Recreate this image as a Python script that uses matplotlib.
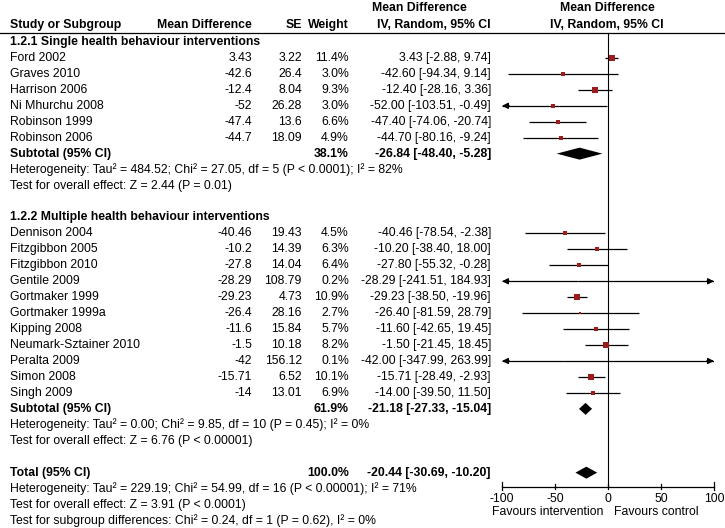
import matplotlib
matplotlib.use("Agg")
import matplotlib.pyplot as plt
from matplotlib.patches import Polygon

plt.rcParams['font.family'] = ['Liberation Sans', 'DejaVu Sans']

# data
g1_names = ["Ford 2002", "Graves 2010", "Harrison 2006", "Ni Mhurchu 2008",
            "Robinson 1999", "Robinson 2006"]
g1_md = [3.43, -42.6, -12.4, -52, -47.4, -44.7]
g1_se = [3.22, 26.4, 8.04, 26.28, 13.6, 18.09]
g1_w = [11.4, 3.0, 9.3, 3.0, 6.6, 4.9]
g1_lo = [-2.88, -94.34, -28.16, -103.51, -74.06, -80.16]
g1_hi = [9.74, 9.14, 3.36, -0.49, -20.74, -9.24]

g2_names = ["Dennison 2004", "Fitzgibbon 2005", "Fitzgibbon 2010", "Gentile 2009",
            "Gortmaker 1999", "Gortmaker 1999a", "Kipping 2008",
            "Neumark-Sztainer 2010", "Peralta 2009", "Simon 2008", "Singh 2009"]
g2_md = [-40.46, -10.2, -27.8, -28.29, -29.23, -26.4, -11.6, -1.5, -42, -15.71, -14]
g2_se = [19.43, 14.39, 14.04, 108.79, 4.73, 28.16, 15.84, 10.18, 156.12, 6.52, 13.01]
g2_w = [4.5, 6.3, 6.4, 0.2, 10.9, 2.7, 5.7, 8.2, 0.1, 10.1, 6.9]
g2_lo = [-78.54, -38.40, -55.32, -241.51, -38.50, -81.59, -42.65, -21.45, -347.99, -28.49, -39.50]
g2_hi = [-2.38, 18.00, -0.28, 184.93, -19.96, 28.79, 19.45, 18.45, 263.99, -2.93, 11.50]

sub_est = [-26.84, -21.18]
sub_lo = [-48.40, -27.33]
sub_hi = [-5.28, -15.04]
sub_w = [38.1, 61.9]
tot_est, tot_lo, tot_hi = -20.44, -30.69, -10.20

g1_stats = ["Heterogeneity: Tau\u00b2 = 484.52; Chi\u00b2 = 27.05, df = 5 (P < 0.0001); I\u00b2 = 82%",
            "Test for overall effect: Z = 2.44 (P = 0.01)"]
g2_stats = ["Heterogeneity: Tau\u00b2 = 0.00; Chi\u00b2 = 9.85, df = 10 (P = 0.45); I\u00b2 = 0%",
            "Test for overall effect: Z = 6.76 (P < 0.00001)"]
tot_stats = ["Heterogeneity: Tau\u00b2 = 229.19; Chi\u00b2 = 54.99, df = 16 (P < 0.00001); I\u00b2 = 71%",
             "Test for overall effect: Z = 3.91 (P < 0.0001)",
             "Test for subgroup differences: Chi\u00b2 = 0.24, df = 1 (P = 0.62), I\u00b2 = 0%"]
ticks = [-100, -50, 0, 50, 100]

W, H = 725, 528
FS = 8.8
RED = "#9b1c1c"


def row_y(i):
    return 42 + 15.95 * (i - 1)


fig = plt.figure(figsize=(W / 100, H / 100), dpi=100)
ax = fig.add_axes([0, 0, 1, 1])
ax.set_xlim(0, W)
ax.set_ylim(H, 0)
ax.axis("off")

x0, x1 = 502, 714
fax = fig.add_axes([x0 / W, 0, (x1 - x0) / W, 1])
fax.set_xlim(-100, 100)
fax.set_ylim(H, 0)
fax.axis("off")

# headers
def txt(x, y, s, ha="left", bold=False):
    ax.text(x, y, s, ha=ha, va="center", fontsize=FS,
            fontweight="bold" if bold else "normal")

txt(10, 25, "Study or Subgroup", bold=True)
txt(252, 25, "Mean Difference", ha="right", bold=True)
txt(302, 25, "SE", ha="right", bold=True)
txt(349, 25, "Weight", ha="right", bold=True)
txt(467, 8, "Mean Difference", ha="right", bold=True)
txt(491, 25, "IV, Random, 95% CI", ha="right", bold=True)
txt(607, 8, "Mean Difference", ha="center", bold=True)
txt(607, 25, "IV, Random, 95% CI", ha="center", bold=True)
ax.plot([0, W], [32.5, 32.5], color="black", lw=0.9)

axis_y = 487
fax.plot([0, 0], [32.5, axis_y], color="black", lw=0.8)


def study_row(i, name, md, se, w, lo, hi):
    y = row_y(i)
    txt(10, y, name)
    txt(252, y, f"{md:g}", ha="right")
    txt(302, y, f"{se:g}", ha="right")
    txt(349, y, f"{w:.1f}%", ha="right")
    txt(491, y, f"{md:.2f} [{lo:.2f}, {hi:.2f}]", ha="right")
    a, b = max(lo, -100), min(hi, 100)
    fax.plot([a, b], [y, y], color="black", lw=0.9, solid_capstyle="butt")
    if lo < -100:
        fax.annotate("", xy=(-100, y), xytext=(-93, y),
                     arrowprops=dict(arrowstyle="-|>", color="black", lw=0.9,
                                     mutation_scale=9, shrinkA=0, shrinkB=0))
    if hi > 100:
        fax.annotate("", xy=(100, y), xytext=(93, y),
                     arrowprops=dict(arrowstyle="-|>", color="black", lw=0.9,
                                     mutation_scale=9, shrinkA=0, shrinkB=0))
    side = 1.8 * w ** 0.5
    fax.plot(md, y, marker="s", ms=side * 0.72, color=RED, mec=RED, mew=0)


def diamond(y, est, lo, hi, h=6):
    fax.add_patch(Polygon([(lo, y), (est, y - h), (hi, y), (est, y + h)],
                          closed=True, color="black", lw=0))


def summary_row(i, w, est, lo, hi, label):
    y = row_y(i)
    txt(10, y, label, bold=True)
    txt(349, y, f"{w:.1f}%", ha="right", bold=True)
    txt(491, y, f"{est:.2f} [{lo:.2f}, {hi:.2f}]", ha="right", bold=True)
    diamond(y, est, lo, hi)


# subgroup 1
txt(10, row_y(1), "1.2.1 Single health behaviour interventions", bold=True)
for k in range(len(g1_names)):
    study_row(2 + k, g1_names[k], g1_md[k], g1_se[k], g1_w[k], g1_lo[k], g1_hi[k])
summary_row(8, sub_w[0], sub_est[0], sub_lo[0], sub_hi[0], "Subtotal (95% CI)")
for k, s in enumerate(g1_stats):
    txt(10, row_y(9 + k), s)

# subgroup 2
txt(10, row_y(12), "1.2.2 Multiple health behaviour interventions", bold=True)
for k in range(len(g2_names)):
    study_row(13 + k, g2_names[k], g2_md[k], g2_se[k], g2_w[k], g2_lo[k], g2_hi[k])
summary_row(24, sub_w[1], sub_est[1], sub_lo[1], sub_hi[1], "Subtotal (95% CI)")
for k, s in enumerate(g2_stats):
    txt(10, row_y(25 + k), s)

# total
summary_row(28, 100.0, tot_est, tot_lo, tot_hi, "Total (95% CI)")
for k, s in enumerate(tot_stats):
    txt(10, row_y(29 + k), s)

# x axis
fax.plot([-100, 100], [axis_y, axis_y], color="black", lw=0.9, clip_on=False)
for t in ticks:
    tl = 5 if abs(t) == 100 else 3.5
    fax.plot([t, t], [axis_y - tl, axis_y + tl * 0.6], color="black", lw=0.9, clip_on=False)
    fax.text(t, 499, f"{t}", ha="center", va="center", fontsize=FS)
fax.text(-4, 512, "Favours intervention", ha="right", va="center", fontsize=FS)
fax.text(6, 512, "Favours control", ha="left", va="center", fontsize=FS)

fig.savefig("out.png", dpi=100, facecolor="white")
